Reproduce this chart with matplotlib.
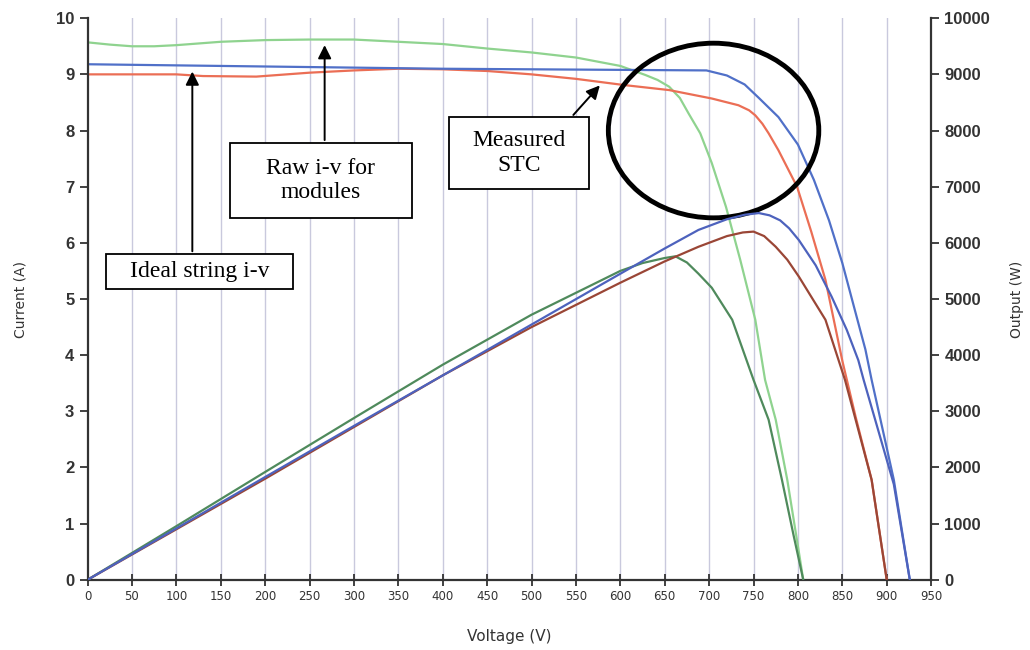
import matplotlib
matplotlib.use("Agg")
import matplotlib.pyplot as plt
from matplotlib.patches import Ellipse, Rectangle

# I-V curves (current in A)
green_iv_v = [0, 25, 50, 75, 100, 150, 200, 250, 300, 350, 400, 450, 500, 550, 600, 628, 642, 655, 667,
              677, 690, 703, 719, 735, 752, 763, 775, 788, 800, 806]
green_iv_i = [9.57, 9.53, 9.5, 9.5, 9.52, 9.58, 9.61, 9.62, 9.62, 9.58, 9.54, 9.46, 9.39, 9.3, 9.15,
              8.99, 8.9, 8.78, 8.58, 8.3, 7.95, 7.42, 6.64, 5.7, 4.63, 3.56, 2.85, 1.78, 0.6, 0]

red_iv_v = [0, 100, 130, 190, 250, 300, 350, 400, 450, 500, 550, 604, 655, 703, 733, 745, 752, 760,
            767, 778, 799, 815, 831, 850, 865, 883, 900]
red_iv_i = [9.0, 9.0, 8.97, 8.96, 9.03, 9.07, 9.1, 9.09, 9.06, 9.0, 8.92, 8.81, 8.72, 8.57, 8.45,
            8.36, 8.27, 8.12, 7.95, 7.65, 7.0, 6.2, 5.34, 3.9, 2.9, 1.78, 0]

blue_iv_v = [0, 100, 200, 300, 400, 500, 600, 697, 720, 740, 756, 778, 800, 818, 835, 850, 865, 876,
             883, 893, 908, 926]
blue_iv_i = [9.18, 9.16, 9.14, 9.12, 9.1, 9.09, 9.08, 9.07, 8.98, 8.82, 8.58, 8.24, 7.75, 7.12, 6.4,
             5.64, 4.75, 4.1, 3.56, 2.85, 1.78, 0]

# power curves (W)
green_p_v = [0, 100, 200, 300, 400, 500, 600, 625, 650, 662, 675, 688, 703, 726, 750, 767, 782, 795, 806]
green_p_w = [0, 955, 1920, 2880, 3830, 4720, 5500, 5640, 5730, 5760, 5650, 5450, 5200, 4630, 3560,
             2850, 1780, 800, 0]

red_p_v = [0, 100, 200, 300, 400, 500, 600, 650, 688, 720, 738, 750, 762, 775, 788, 801, 831, 853,
           865, 883, 900]
red_p_w = [0, 900, 1800, 2720, 3640, 4500, 5290, 5670, 5930, 6120, 6185, 6200, 6120, 5930, 5700,
           5400, 4630, 3560, 2850, 1780, 0]

blue_p_v = [0, 100, 200, 300, 400, 500, 600, 650, 688, 720, 740, 756, 768, 780, 790, 801, 820, 838,
            855, 868, 874, 887, 908, 926]
blue_p_w = [0, 915, 1830, 2740, 3640, 4545, 5450, 5900, 6230, 6420, 6500, 6530, 6490, 6400, 6260,
            6050, 5600, 5040, 4450, 3910, 3560, 2850, 1700, 0]

x_ticks = list(range(0, 951, 50))
left_ticks = list(range(0, 11))
right_ticks = list(range(0, 10001, 1000))

fig = plt.figure(figsize=(10.3, 6.5), dpi=100)
ax = fig.add_axes([0.085, 0.108, 0.819, 0.864])
ax2 = ax.twinx()

dark = "#333333"

for xv in x_ticks[1:-1]:
    ax.axvline(xv, color="#c9c9dd", lw=1.0, zorder=0)

ax.plot(green_iv_v, green_iv_i, color="#8fd38f", lw=1.6)
ax.plot(red_iv_v, red_iv_i, color="#eb6e55", lw=1.6)
ax.plot(blue_iv_v, blue_iv_i, color="#5070c8", lw=1.6)

ax2.plot(green_p_v, green_p_w, color="#4f8a5c", lw=1.6)
ax2.plot(red_p_v, red_p_w, color="#9a4636", lw=1.6)
ax2.plot(blue_p_v, blue_p_w, color="#4d62bd", lw=1.6)

ax.set_xlim(0, 950)
ax.set_ylim(0, 10)
ax2.set_ylim(0, 10000)

ax.set_xticks(x_ticks)
ax.set_yticks(left_ticks)
ax2.set_yticks(right_ticks)

for s in ["top", "right"]:
    ax.spines[s].set_visible(False)
for s in ["top", "left", "bottom"]:
    ax2.spines[s].set_visible(False)
for s in ["left", "bottom"]:
    ax.spines[s].set_color(dark)
    ax.spines[s].set_linewidth(1.6)
ax2.spines["right"].set_color(dark)
ax2.spines["right"].set_linewidth(1.6)

ax.tick_params(axis="x", direction="inout", length=8, width=1.3, color=dark,
               labelsize=8.5, labelcolor=dark)
ax.tick_params(axis="y", direction="out", length=6, width=1.3, color=dark,
               labelsize=12, labelcolor=dark)
ax2.tick_params(axis="y", direction="out", length=6, width=1.3, color=dark,
                labelsize=12, labelcolor=dark)
for lbl in ax.get_yticklabels() + ax2.get_yticklabels():
    lbl.set_fontweight("bold")
    lbl.set_family("Liberation Sans")

ax.set_xlabel("Voltage (V)", fontsize=11, color=dark)
ax.set_ylabel("Current (A)", fontsize=10, color=dark)
ax2.set_ylabel("Output (W)", fontsize=10, color=dark)
ax.xaxis.set_label_coords(0.5, -0.088)
ax.yaxis.set_label_coords(-0.071, 0.5)
ax2.yaxis.set_label_coords(1.094, 0.5)

# circle round the knee of the curves
ax.add_patch(Ellipse((705, 8.0), 237, 3.11, fill=False, edgecolor="black",
                     lw=3.5, clip_on=False, zorder=5))

# annotation boxes
boxes = [
    ("Ideal string i-v", 21, 5.18, 210, 0.62),
    ("Raw i-v for\nmodules", 160, 6.44, 205, 1.34),
    ("Measured\nSTC", 407, 6.96, 158, 1.28),
]
for txt, x0, y0, w, h in boxes:
    ax.add_patch(Rectangle((x0, y0), w, h, facecolor="white", edgecolor="black",
                           lw=1.3, zorder=6))
    ax.text(x0 + w / 2, y0 + h / 2, txt, ha="center", va="center",
            fontsize=17, family="Liberation Serif", zorder=7, linespacing=1.2)

arrow = dict(arrowstyle="-|>", color="black", lw=1.4, mutation_scale=20)
ax.annotate("", xy=(118, 9.1), xytext=(118, 5.8), arrowprops=arrow, zorder=7)
ax.annotate("", xy=(267, 9.57), xytext=(267, 7.78), arrowprops=arrow, zorder=7)
ax.annotate("", xy=(579, 8.84), xytext=(545, 8.24), arrowprops=arrow, zorder=7)

fig.savefig("out.png", dpi=100)
